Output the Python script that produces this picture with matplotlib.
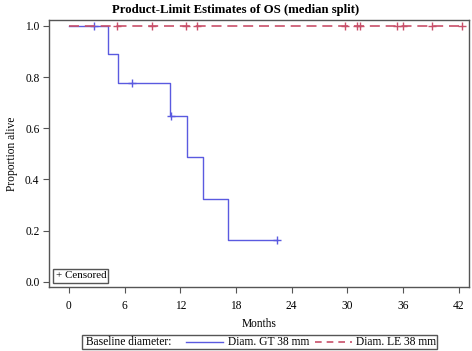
import numpy as np
import matplotlib
matplotlib.use('Agg')
import matplotlib.pyplot as plt
from matplotlib.lines import Line2D
from matplotlib.patches import Rectangle

# Diam. GT 38 mm
gt_time = [0, 4.24, 5.24, 10.85, 12.7, 14.43, 17.12, 22.4]
gt_surv = [1.0, 0.889, 0.778, 0.648, 0.486, 0.324, 0.162, 0.162]
gt_cens_t = [2.66, 6.78, 11.03, 22.4]
gt_cens_s = [1.0, 0.778, 0.648, 0.162]

# Diam. LE 38 mm
le_time = [0, 42.4]
le_surv = [1.0, 1.0]
le_cens_t = [5.14, 8.9, 12.6, 13.75, 29.7, 31.0, 31.4, 35.3, 36.0, 39.1, 42.4]
le_cens_s = [1.0] * len(le_cens_t)

xticks = [0, 6, 12, 18, 24, 30, 36, 42]
yticks = [0.0, 0.2, 0.4, 0.6, 0.8, 1.0]

blue = '#5a5ae0'
red = '#c8506a'
frame = '#555555'
fs = 8.3

plt.rcParams['font.family'] = ['Liberation Serif', 'DejaVu Serif']

fig = plt.figure(figsize=(4.72, 3.51), dpi=100)
ax = fig.add_axes([0.1045, 0.1823, 0.889, 0.7607])

ax.step(gt_time, gt_surv, where='post', color=blue, lw=1.0)
ax.plot(gt_cens_t, gt_cens_s, ls='none', marker='+', ms=6, mew=1.0, color=blue)
ax.step(le_time, le_surv, where='post', color=red, lw=1.2, dashes=(6, 3.5))
ax.plot(le_cens_t, le_cens_s, ls='none', marker='+', ms=6, mew=1.0, color=red)

ax.set_xlim(-2.12, 43.1)
ax.set_ylim(-0.02, 1.023)
ax.set_xticks(xticks)
ax.set_yticks(yticks)
ax.set_yticklabels(['%.1f' % v for v in yticks])
ax.tick_params(direction='out', length=4, width=0.8, color=frame, labelsize=fs, pad=3)
ax.tick_params(axis='x', pad=5)
for s in ax.spines.values():
    s.set_color(frame)
    s.set_linewidth(1.0)

ax.set_xlabel('Months', fontsize=fs, labelpad=5)
ax.set_ylabel('Proportion alive', fontsize=fs, labelpad=5)
fig.text(0.5, 0.972, 'Product-Limit Estimates of OS (median split)', ha='center', va='center',
         fontsize=9.2, fontweight='bold')

# censored box inside axes
ax.text(0.015, 0.025, '+ Censored', transform=ax.transAxes, fontsize=7.9, va='bottom', ha='left',
        bbox=dict(boxstyle='square,pad=0.2', fc='white', ec=frame, lw=1.0))

# bottom legend
W, H = 472.0, 351.0
fig.patches.append(Rectangle((82 / W, 1 - 349 / H), (437 - 82) / W, 14 / H, transform=fig.transFigure,
                             fill=False, ec=frame, lw=1.0))
ly = 1 - 342 / H
fig.text(86 / W, ly, 'Baseline diameter:', fontsize=fs, va='center', ha='left')
fig.lines.append(Line2D([186 / W, 223 / W], [ly, ly], transform=fig.transFigure, color=blue, lw=1.0))
fig.text(228 / W, ly, 'Diam. GT 38 mm', fontsize=fs, va='center', ha='left')
fig.lines.append(Line2D([315 / W, 352 / W], [ly, ly], transform=fig.transFigure, color=red, lw=1.2,
                        dashes=(4, 3)))
fig.text(356 / W, ly, 'Diam. LE 38 mm', fontsize=fs, va='center', ha='left')

fig.savefig('out.png', dpi=100)
